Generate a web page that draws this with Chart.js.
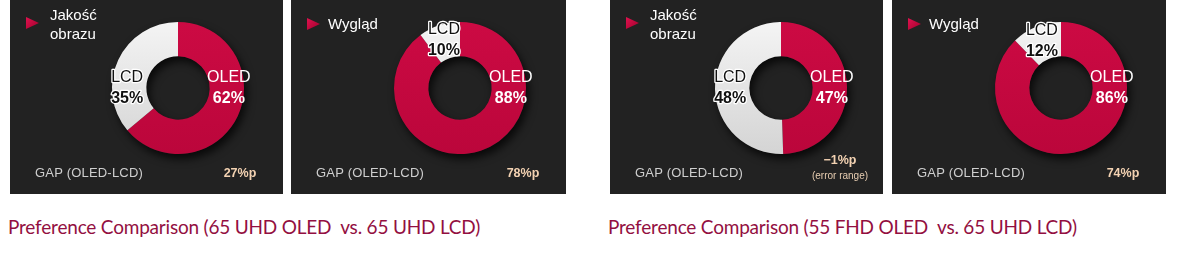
<!DOCTYPE html>
<html>
<head>
<meta charset="utf-8">
<script src="https://cdn.jsdelivr.net/npm/chart.js@4"></script>
<style>
  body { margin: 0; background: #fff; }
  #wrap { position: relative; width: 1200px; height: 280px; overflow: hidden; font-family: "Liberation Sans", Arial, sans-serif; }
  .panel { position: absolute; top: 0; height: 194px; background: #222222; }
  .panel canvas { position: absolute; left: 0; top: 0; }
  .ptitle { position: absolute; color: #fff; font-size: 15px; line-height: 19px; }
  .tri { position: absolute; width: 13px; height: 12px; clip-path: polygon(0 0, 100% 50%, 0 100%); background: linear-gradient(135deg, #e0124f, #a0002c); }
  .gap { position: absolute; color: #cfcfcf; font-size: 13px; line-height: 16px; letter-spacing: 0.2px; }
  .gapval { position: absolute; width: 86px; text-align: center; color: #f3d2b2; font-size: 12.5px; font-weight: bold; line-height: 16px; }
  .gapnote { position: absolute; width: 86px; text-align: center; color: #e6ccb0; font-size: 10px; line-height: 14px; }
  .ctitle { position: absolute; top: 215px; color: #930f41; font-family: Lato, "Liberation Sans", sans-serif; font-size: 19px; letter-spacing: -0.2px; line-height: 24px; white-space: pre; }
</style>
</head>
<body>
<div id="wrap"></div>
<script>
// values
const panelTitles = [['Jakość', 'obrazu'], ['Wygląd'], ['Jakość', 'obrazu'], ['Wygląd']];
const seriesLabels = ['OLED', 'LCD'];
const oledShare = [62, 88, 47, 86];
const lcdShare = [35, 10, 48, 12];
const gapCaption = 'GAP (OLED-LCD)';
const gapValues = ['27%p', '78%p', '\u22121%p', '74%p'];
const gapNotes = ['', '', '(error range)', ''];
const comparisonTitles = [
    'Preference Comparison (65 UHD OLED  vs. 65 UHD LCD)',
    'Preference Comparison (55 FHD OLED  vs. 65 UHD LCD)'
];

// layout
const panelX = [10, 291, 610, 892];
const panelW = [273, 275, 273, 274];
const ringCx = [168, 169, 171, 169];
const ringR = 66;
const ringTop = 22;
const panelH = 194;

const wrap = document.getElementById('wrap');

const ringShadow = {
    id: 'ringShadow',
    beforeDatasetsDraw(chart) {
        const arc = chart.getDatasetMeta(0).data[0];
        if (!arc) return;
        const { x, y, outerRadius, innerRadius } = arc.getProps(['x', 'y', 'outerRadius', 'innerRadius'], true);
        const ctx = chart.ctx;
        ctx.save();
        ctx.shadowColor = 'rgba(0,0,0,0.75)';
        ctx.shadowBlur = 9;
        ctx.shadowOffsetX = 3;
        ctx.shadowOffsetY = 5;
        ctx.fillStyle = '#222';
        ctx.beginPath();
        ctx.arc(x, y, outerRadius, 0, Math.PI * 2);
        ctx.arc(x, y, innerRadius, 0, Math.PI * 2, true);
        ctx.fill();
        ctx.restore();
    }
};

const sliceLabels = {
    id: 'sliceLabels',
    afterDatasetsDraw(chart) {
        const ctx = chart.ctx;
        const values = chart.data.datasets[0].data;
        chart.getDatasetMeta(0).data.forEach((arc, j) => {
            const p = arc.getProps(['x', 'y', 'startAngle', 'endAngle', 'innerRadius', 'outerRadius'], true);
            let a = (p.startAngle + p.endAngle) / 2;
            if (p.startAngle <= 0 && p.endAngle >= 0) a = 0;
            else if (p.startAngle <= Math.PI && p.endAngle >= Math.PI) a = Math.PI;
            const r = (p.innerRadius + p.outerRadius) / 2 + 2;
            const lx = p.x + Math.cos(a) * r;
            const ly = p.y + Math.sin(a) * r;
            const lines = [
                { text: chart.data.labels[j], font: '16px "Liberation Sans", Arial, sans-serif', dy: -10 },
                { text: values[j] + '%', font: 'bold 16px "Liberation Sans", Arial, sans-serif', dy: 11 }
            ];
            ctx.save();
            ctx.textAlign = 'center';
            ctx.textBaseline = 'middle';
            lines.forEach(l => {
                ctx.font = l.font;
                if (j === 1) {
                    ctx.lineWidth = 2.5;
                    ctx.strokeStyle = '#ffffff';
                    ctx.lineJoin = 'round';
                    ctx.strokeText(l.text, lx, ly + l.dy);
                    ctx.fillStyle = '#111111';
                } else {
                    ctx.fillStyle = '#ffffff';
                }
                ctx.fillText(l.text, lx, ly + l.dy);
            });
            ctx.restore();
        });
    }
};

function sliceFill(context) {
    const area = context.chart.chartArea;
    const isLcd = context.dataIndex === 1;
    if (!area) return isLcd ? '#e6e6e6' : '#c6083f';
    const g = context.chart.ctx.createLinearGradient(0, area.top, 0, area.bottom);
    if (isLcd) {
        g.addColorStop(0, '#f4f4f4');
        g.addColorStop(1, '#d4d4d4');
    } else {
        g.addColorStop(0, '#cc0a43');
        g.addColorStop(1, '#bb063b');
    }
    return g;
}

panelTitles.forEach((title, i) => {
    const panel = document.createElement('div');
    panel.className = 'panel';
    panel.style.left = panelX[i] + 'px';
    panel.style.width = panelW[i] + 'px';
    wrap.appendChild(panel);

    const canvas = document.createElement('canvas');
    canvas.width = panelW[i];
    canvas.height = panelH;
    canvas.style.width = panelW[i] + 'px';
    canvas.style.height = panelH + 'px';
    panel.appendChild(canvas);

    const tri = document.createElement('div');
    tri.className = 'tri';
    tri.style.left = '16px';
    tri.style.top = (title.length > 1 ? 17 : 18) + 'px';
    panel.appendChild(tri);

    const t = document.createElement('div');
    t.className = 'ptitle';
    t.style.left = (title.length > 1 ? 40 : 37) + 'px';
    t.style.top = (title.length > 1 ? 5 : 14) + 'px';
    t.innerHTML = title.join('<br>');
    panel.appendChild(t);

    const gap = document.createElement('div');
    gap.className = 'gap';
    gap.style.left = '25px';
    gap.style.top = '165px';
    gap.textContent = gapCaption;
    panel.appendChild(gap);

    const gv = document.createElement('div');
    gv.className = 'gapval';
    gv.style.left = (panelW[i] - 86) + 'px';
    gv.style.top = (gapNotes[i] ? 152 : 165) + 'px';
    gv.textContent = gapValues[i];
    panel.appendChild(gv);

    if (gapNotes[i]) {
        const gn = document.createElement('div');
        gn.className = 'gapnote';
        gn.style.left = (panelW[i] - 86) + 'px';
        gn.style.top = '169px';
        gn.textContent = gapNotes[i];
        panel.appendChild(gn);
    }

    new Chart(canvas.getContext('2d'), {
        type: 'doughnut',
        data: {
            labels: seriesLabels,
            datasets: [{
                data: [oledShare[i], lcdShare[i]],
                backgroundColor: sliceFill,
                borderWidth: 0
            }]
        },
        options: {
            responsive: false,
            animation: false,
            cutout: '48%',
            layout: {
                padding: {
                    left: ringCx[i] - ringR,
                    right: panelW[i] - ringCx[i] - ringR,
                    top: ringTop,
                    bottom: panelH - ringTop - 2 * ringR
                }
            },
            plugins: { legend: { display: false }, tooltip: { enabled: false } }
        },
        plugins: [ringShadow, sliceLabels]
    });
});

comparisonTitles.forEach((text, k) => {
    const c = document.createElement('div');
    c.className = 'ctitle';
    c.style.left = (k === 0 ? 8 : 608) + 'px';
    c.textContent = text;
    wrap.appendChild(c);
});
</script>
</body>
</html>
